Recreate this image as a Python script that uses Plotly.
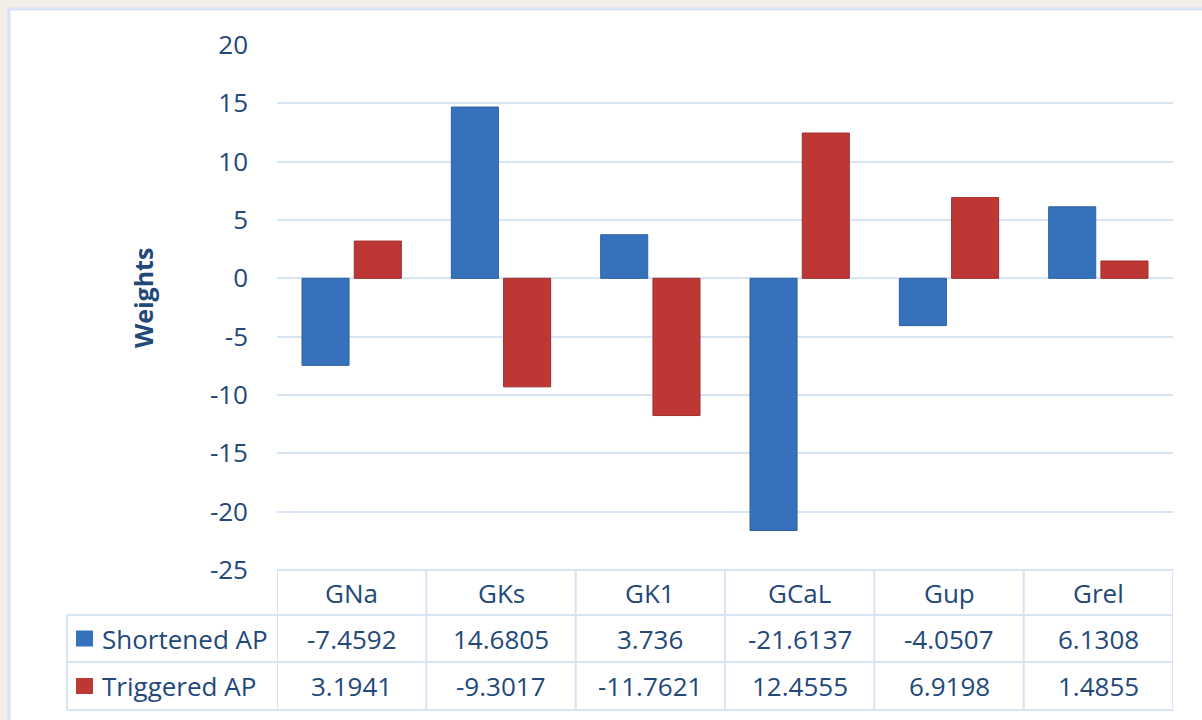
import plotly.graph_objects as go

categories = ["GNa", "GKs", "GK1", "GCaL", "Gup", "Grel"]
shortened_ap = [-7.4592, 14.6805, 3.736, -21.6137, -4.0507, 6.1308]
triggered_ap = [3.1941, -9.3017, -11.7621, 12.4555, 6.9198, 1.4855]
series_names = ["Shortened AP", "Triggered AP"]
y_ticks = [20, 15, 10, 5, 0, -5, -10, -15, -20, -25]

W, H = 1202, 720
# layout in page pixel coordinates
PL, PR, PT, PB = 277, 1173, 45, 570
ML, MT = PL, PT
MR = W - PR
MB = H - PB
PLOT_W = W - ML - MR
PLOT_H = H - MT - MB

TEXT = "#23487A"
GRID = "#D7E4F4"
BLUE = "#3572BB"
RED = "#BD3735"
FONT = "Open Sans"
BG = "#F4EEE8"
FS = 26


def py(page_y):
    return (PB - page_y) / PLOT_H


def px(page_x):
    return (page_x - PL) / PLOT_W


fig = go.Figure()
fig.add_trace(go.Bar(x=list(range(len(categories))), y=shortened_ap, name=series_names[0],
                     marker=dict(color=BLUE, line=dict(color="#2D609E", width=1))))
fig.add_trace(go.Bar(x=list(range(len(categories))), y=triggered_ap, name=series_names[1],
                     marker=dict(color=RED, line=dict(color="#A02D2D", width=1))))

shapes = []
shapes.append(dict(type="rect", xref="paper", yref="paper", layer="below",
                   x0=px(9), x1=px(1240), y0=py(760), y1=py(9),
                   fillcolor="white", line=dict(color="#D5E3F3", width=3)))

row_lines = [570, 615, 662, 710]
legend_left = 67
line_style = dict(color=GRID, width=2)
shapes.append(dict(type="line", xref="paper", yref="paper", x0=0, x1=1,
                   y0=py(row_lines[0]), y1=py(row_lines[0]), line=line_style))
for yl in row_lines[1:]:
    shapes.append(dict(type="line", xref="paper", yref="paper", x0=px(legend_left), x1=1,
                       y0=py(yl), y1=py(yl), line=line_style))
for i in range(len(categories) + 1):
    shapes.append(dict(type="line", xref="x", yref="paper", x0=i - 0.5, x1=i - 0.5,
                       y0=py(row_lines[0]), y1=py(row_lines[-1]), line=line_style))
shapes.append(dict(type="line", xref="paper", yref="paper", x0=px(legend_left), x1=px(legend_left),
                   y0=py(row_lines[1]), y1=py(row_lines[-1]), line=line_style))

annotations = []
tf = dict(family=FONT, size=FS, color=TEXT)
for i, c in enumerate(categories):
    for r, txt in enumerate([c, f"{shortened_ap[i]:g}", f"{triggered_ap[i]:g}"]):
        annotations.append(dict(x=i, xref="x", y=py((row_lines[r] + row_lines[r + 1]) / 2), yref="paper",
                                text=txt, showarrow=False, font=tf, xanchor="center", yanchor="middle"))

for r, (name, col) in enumerate(zip(series_names, [BLUE, RED])):
    yc = (row_lines[r + 1] + row_lines[r + 2]) / 2
    shapes.append(dict(type="rect", xref="paper", yref="paper",
                       x0=px(76), x1=px(93), y0=py(yc + 8), y1=py(yc - 8),
                       fillcolor=col, line=dict(width=0)))
    annotations.append(dict(x=px(100), xref="paper", y=py(yc), yref="paper", text=name,
                            showarrow=False, font=tf, xanchor="left", yanchor="middle"))

annotations.append(dict(x=px(143), xref="paper", y=py(298), yref="paper", text="<b>Weights</b>",
                        textangle=-90, showarrow=False, font=dict(family=FONT, size=25, color=TEXT),
                        xanchor="center", yanchor="middle"))

fig.update_layout(
    width=W, height=H,
    margin=dict(l=ML, r=MR, t=MT, b=MB, pad=0),
    paper_bgcolor=BG,
    plot_bgcolor="white",
    barmode="group",
    bargap=0.30,
    bargroupgap=0.10,
    showlegend=False,
    shapes=shapes,
    annotations=annotations,
    font=dict(family=FONT, color=TEXT),
)
fig.update_xaxes(range=[-0.5, len(categories) - 0.5], showticklabels=False, showgrid=False,
                 zeroline=False, showline=False)
fig.update_yaxes(range=[-25, 20], tickvals=y_ticks, ticktext=[str(v) for v in y_ticks],
                 showgrid=True, gridcolor=GRID, gridwidth=2, zeroline=True, zerolinecolor=GRID,
                 zerolinewidth=2, tickfont=tf,
                 ticks="", ticklabelstandoff=28, showline=False)

fig.write_html("out.html", config={"displayModeBar": False},
               post_script="document.body.style.margin='0';document.body.style.overflow='hidden';")
